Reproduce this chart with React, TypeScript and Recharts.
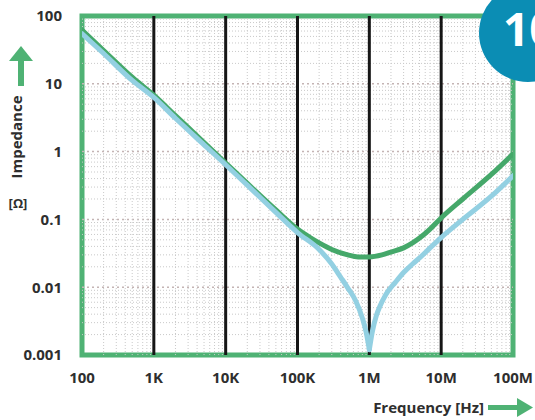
import React from 'react';
import { LineChart, Line, XAxis, YAxis, ReferenceLine, ReferenceArea } from 'recharts';

// frequency [Hz] / impedance [ohm]
const greenFreq = [100, 200, 500, 1e3, 2e3, 5e3, 1e4, 2e4, 5e4, 1e5, 1.5e5, 2e5, 3e5, 5e5, 7e5, 1e6, 1.5e6, 2e6, 3e6, 4e6, 5e6, 7e6, 1e7, 2e7, 5e7, 1e8];
const greenImp = [62, 31, 12.5, 6.8, 3.4, 1.36, 0.68, 0.34, 0.138, 0.072, 0.054, 0.045, 0.036, 0.03, 0.028, 0.028, 0.03, 0.033, 0.038, 0.045, 0.053, 0.072, 0.105, 0.2, 0.46, 0.92];

const blueFreq = [100, 200, 500, 1e3, 2e3, 5e3, 1e4, 2e4, 5e4, 1e5, 2e5, 3e5, 4e5, 5e5, 6.5e5, 8e5, 9e5, 1e6, 1.1e6, 1.25e6, 1.4e6, 1.7e6, 2.3e6, 3e6, 4e6, 5e6, 7e6, 1e7, 2e7, 5e7, 1e8];
const blueImp = [55, 28, 11.2, 6.3, 3.1, 1.26, 0.64, 0.32, 0.127, 0.064, 0.036, 0.022, 0.014, 0.0098, 0.0062, 0.0035, 0.0022, 0.0012, 0.0022, 0.0038, 0.0052, 0.0078, 0.0118, 0.0165, 0.022, 0.027, 0.038, 0.054, 0.1, 0.22, 0.44];

const xTicks = [100, 1e3, 1e4, 1e5, 1e6, 1e7, 1e8];
const xTickLabels = ['100', '1K', '10K', '100K', '1M', '10M', '100M'];
const yTicks = [0.001, 0.01, 0.1, 1, 10, 100];
const yTickLabels = ['0.001', '0.01', '0.1', '1', '10', '100'];
const minorSteps = [2, 3, 4, 5, 6, 7, 8, 9];

const greenData = greenFreq.map((f, i) => ({ f, z: greenImp[i] }));
const blueData = blueFreq.map((f, i) => ({ f, z: blueImp[i] }));
const blueLeft = blueData.filter((d) => d.f <= 1e6);
const blueRight = blueData.filter((d) => d.f >= 1e6);

const xMinor = xTicks.slice(0, -1).flatMap((d) => minorSteps.map((m) => m * d));
const yMinor = yTicks.slice(0, -1).flatMap((d) => minorSteps.map((m) => m * d));

const GREEN = '#45a86a';
const BORDER = '#4fb274';
const BLUE = '#93d0e2';
const FONT = '"Open Sans", sans-serif';
const TEXT = '#2e2e2e';

const tickStyle = { fill: TEXT, fontSize: 15, fontWeight: 700, fontFamily: FONT };

export default function App() {
    return (
        <div style={{ position: 'fixed', left: 0, top: 0, width: 535, height: 420, overflow: 'hidden', background: '#fff' }}>
            <LineChart width={535} height={420} margin={{ top: 16, right: 22, bottom: 25, left: 0 }}>
                <XAxis
                    type="number"
                    dataKey="f"
                    scale="log"
                    domain={[100, 1e8]}
                    ticks={xTicks}
                    allowDataOverflow
                    height={40}
                    axisLine={false}
                    tickLine={false}
                    tickSize={0}
                    tickMargin={17}
                    tick={tickStyle}
                    tickFormatter={(v) => xTickLabels[xTicks.indexOf(v)] ?? ''}
                />
                <YAxis
                    type="number"
                    dataKey="z"
                    scale="log"
                    domain={[0.001, 100]}
                    ticks={yTicks}
                    allowDataOverflow
                    width={82}
                    axisLine={false}
                    tickLine={false}
                    tickSize={0}
                    tickMargin={20}
                    tick={tickStyle}
                    tickFormatter={(v) => yTickLabels[yTicks.indexOf(v)] ?? ''}
                />
                {yMinor.map((v) => (
                    <ReferenceLine key={'ym' + v} y={v} stroke="#c9c9c9" strokeWidth={1} strokeDasharray="1 2" />
                ))}
                {yTicks.slice(1, -1).map((v) => (
                    <ReferenceLine key={'yt' + v} y={v} stroke="#c4b4b4" strokeWidth={1.5} strokeDasharray="2 3" />
                ))}
                {xMinor.map((v) => (
                    <ReferenceLine key={'xm' + v} x={v} stroke="#c9c9c9" strokeWidth={1} strokeDasharray="1 2" />
                ))}
                {xTicks.slice(1, -1).map((v) => (
                    <ReferenceLine key={'xt' + v} x={v} stroke="#161616" strokeWidth={3} />
                ))}
                <Line data={greenData} dataKey="z" type="monotone" stroke={GREEN} strokeWidth={5} dot={false} isAnimationActive={false} strokeLinecap="round" />
                <Line data={blueLeft} dataKey="z" type="monotone" stroke={BLUE} strokeWidth={5} dot={false} isAnimationActive={false} strokeLinecap="round" />
                <Line data={blueRight} dataKey="z" type="monotone" stroke={BLUE} strokeWidth={5} dot={false} isAnimationActive={false} strokeLinecap="round" />
                <ReferenceArea x1={100} x2={1e8} y1={0.001} y2={100} fill="none" stroke={BORDER} strokeWidth={5} ifOverflow="visible" />
            </LineChart>
            <svg width={535} height={420} style={{ position: 'absolute', left: 0, top: 0, pointerEvents: 'none' }}>
                {/* y title */}
                <rect x={18} y={58} width={6} height={28} fill={BORDER} />
                <polygon points="9,61 21,46 33,61" fill={BORDER} />
                <text
                    x={0}
                    y={0}
                    transform="translate(22,137) rotate(-90)"
                    textAnchor="middle"
                    fontFamily={FONT}
                    fontWeight={700}
                    fontSize={15}
                    fill={TEXT}
                >
                    Impedance
                </text>
                <text x={18} y={208} textAnchor="middle" fontFamily={FONT} fontWeight={700} fontSize={13} fill={TEXT}>
                    [Ω]
                </text>
                {/* x title */}
                <text x={484} y={413} textAnchor="end" fontFamily={FONT} fontWeight={700} fontSize={15} fill={TEXT}>
                    Frequency [Hz]
                </text>
                <rect x={488} y={405} width={31} height={5} fill={BORDER} />
                <polygon points="517,398 533,407.5 517,417" fill={BORDER} />
                {/* badge */}
                <circle cx={528} cy={33} r={49} fill="#0b8db4" />
                <text x={503} y={46} fontFamily={FONT} fontWeight={700} fontSize={46} fill="#fff">
                    10
                </text>
            </svg>
        </div>
    );
}
